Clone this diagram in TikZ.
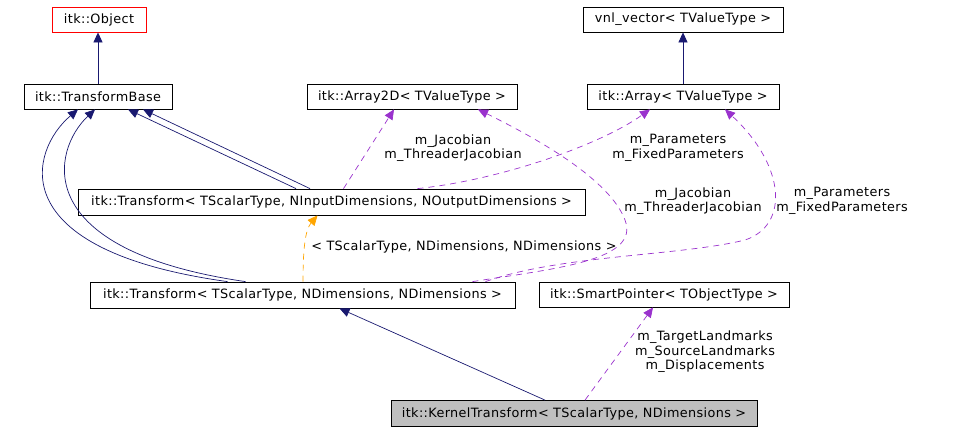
\documentclass[tikz,border=0pt]{standalone}
\usepackage{fontspec}
\setmainfont{DejaVu Sans}[LetterSpace=3]
\usepackage{tikz}
\usetikzlibrary{arrows.meta}
\usetikzlibrary{positioning}

\definecolor{inh}{RGB}{25,25,112}
\definecolor{use}{RGB}{154,50,205}
\definecolor{tmpl}{RGB}{255,165,0}
\definecolor{cur}{RGB}{191,191,191}

\begin{document}
\begin{tikzpicture} [x=1pt,y=-1pt,>={Triangle[length=10pt,width=9pt]},line width=0.7pt,
  font=\fontsize{12.8}{14.5}\selectfont,
  cls/.style={draw=black,line width=0.8pt,minimum height=25,inner sep=0pt},
  inhline/.style={->,inh},
  useline/.style={->,use,dash pattern=on 6pt off 5pt},
  tmplline/.style={->,tmpl,dash pattern=on 6pt off 5pt},
  lbl/.style={align=center,inner sep=0pt}]

  \useasboundingbox (0,0) rectangle (968,432);

  \node[cls,draw=red,minimum width=94] (1) at (99,19.5) {itk::Object};
  \node[cls,minimum width=148] (2) at (98,96.5) {itk::TransformBase};
  \node[cls,minimum width=210] (3) at (412,96.5) {itk::Array2D< TValueType >};
  \node[cls,minimum width=200] (4) at (683,19.5) {vnl\_vector< TValueType >};
  \node[cls,minimum width=192] (5) at (683,96.5) {itk::Array< TValueType >};
  \node[cls,minimum width=507,minimum height=26] (6) at (331.5,202)
    {itk::Transform< TScalarType, NInputDimensions, NOutputDimensions >};
  \node[cls,minimum width=425,minimum height=26] (7) at (302.5,295)
    {itk::Transform< TScalarType, NDimensions, NDimensions >};
  \node[cls,minimum width=250] (8) at (664,294.5) {itk::SmartPointer< TObjectType >};
  \node[cls,fill=cur,minimum width=366,minimum height=26] (9) at (574,413.5)
    {itk::KernelTransform< TScalarType, NDimensions >};

  \node[lbl] (j1) at (453,148) {m\_Jacobian\\m\_ThreaderJacobian};
  \node[lbl] (p1) at (678,148) {m\_Parameters\\m\_FixedParameters};
  \node[lbl] (j2) at (693,201) {m\_Jacobian\\m\_ThreaderJacobian};
  \node[lbl] (p2) at (842,201) {m\_Parameters\\m\_FixedParameters};
  \node[lbl,anchor=west] (t1) at (311,247) {< TScalarType, NDimensions, NDimensions >};
  \node[lbl] (sp) at (705,352) {m\_TargetLandmarks\\m\_SourceLandmarks\\m\_Displacements};

  \path[inhline]
    (2.north) edge (2.north |- 1.south)
    (5.north) edge (4.south)
    ([xshift=-35.5pt]6.north) edge ([xshift=30pt]2.south)
    ([xshift=-21.5pt]6.north) edge ([xshift=45pt]2.south)
    ([xshift=-29pt]9.north) edge ([xshift=37pt]7.south);

  % two curved lines round the left side
  \draw[inhline] ([xshift=-75pt]7.north) .. controls (0,250) and (30,150) .. ([xshift=-20pt]2.south);
  \draw[inhline] ([xshift=-57pt]7.north) .. controls (28,250) and (52,150) .. ([xshift=-3pt]2.south);

  \path[useline]
    ([xshift=12pt]6.north) edge ([xshift=-18pt]3.south)
    ([xshift=11pt]9.north) edge ([xshift=-11pt]8.south);

  \draw[useline] ([xshift=86pt]6.north) .. controls (500,180) and (600,145) .. ([xshift=-33pt]5.south);
  \draw[useline] ([xshift=170pt]7.north) .. controls (560,268) and (640,260) .. (625,220)
    .. controls (610,180) and (540,140) .. ([xshift=66pt]3.south);
  \draw[useline] ([xshift=183pt]7.north) .. controls (560,255) and (680,256) .. (745,240)
    .. controls (790,225) and (785,165) .. ([xshift=42pt]5.south);

  \draw[tmplline] ([xshift=0.5pt]7.north) .. controls (303,250) and (305,230) .. ([xshift=-14pt]6.south);

\end{tikzpicture}
\end{document}
